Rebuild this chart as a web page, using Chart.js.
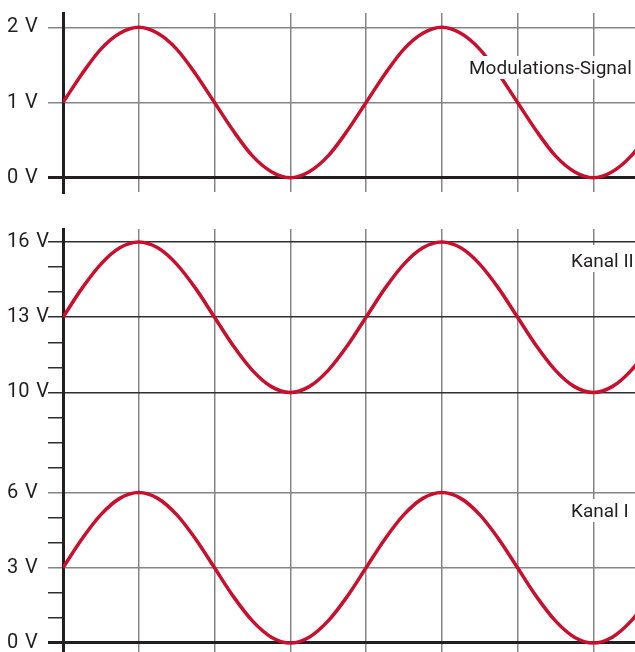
<!DOCTYPE html>
<html>
<head>
<meta charset="utf-8">
<script src="https://cdn.jsdelivr.net/npm/chart.js@4.4.1/dist/chart.umd.min.js"></script>
<style>
  html, body { margin: 0; padding: 0; background: #fff; }
  #wrap { position: relative; width: 635px; height: 652px; overflow: hidden; }
  .panel { position: absolute; left: 0; width: 635px; }
  #top { top: 0; height: 200px; }
  #bottom { top: 200px; height: 452px; }
  canvas { display: block; }
</style>
</head>
<body>
<div id="wrap">
  <div class="panel" id="top"><canvas id="modChart" width="635" height="200"></canvas></div>
  <div class="panel" id="bottom"><canvas id="kanalChart" width="635" height="452"></canvas></div>
</div>
<script>
// x is counted in grid divisions (one vertical line per unit), read every quarter division
const timeSteps = [0, 0.25, 0.5, 0.75, 1, 1.25, 1.5, 1.75, 2, 2.25, 2.5, 2.75, 3, 3.25, 3.5, 3.75,
                   4, 4.25, 4.5, 4.75, 5, 5.25, 5.5, 5.75, 6, 6.25, 6.5, 6.75, 7, 7.25, 7.5, 7.75, 8];
const modulation = [1, 1.38, 1.71, 1.92, 2, 1.92, 1.71, 1.38, 1, 0.62, 0.29, 0.08, 0, 0.08, 0.29, 0.62,
                    1, 1.38, 1.71, 1.92, 2, 1.92, 1.71, 1.38, 1, 0.62, 0.29, 0.08, 0, 0.08, 0.29, 0.62, 1];
const kanal2 = [13, 14.15, 15.12, 15.77, 16, 15.77, 15.12, 14.15, 13, 11.85, 10.88, 10.23, 10, 10.23, 10.88, 11.85,
                13, 14.15, 15.12, 15.77, 16, 15.77, 15.12, 14.15, 13, 11.85, 10.88, 10.23, 10, 10.23, 10.88, 11.85, 13];
const kanal1 = [3, 4.15, 5.12, 5.77, 6, 5.77, 5.12, 4.15, 3, 1.85, 0.88, 0.23, 0, 0.23, 0.88, 1.85,
                3, 4.15, 5.12, 5.77, 6, 5.77, 5.12, 4.15, 3, 1.85, 0.88, 0.23, 0, 0.23, 0.88, 1.85, 3];

const gridX         = [0, 1, 2, 3, 4, 5, 6, 7];
const modTicks      = [0, 1, 2];
const kanalTicks    = [0, 1, 2, 3, 4, 5, 6, 7, 8, 9, 10, 11, 12, 13, 14, 15, 16];
const kanalLabelled = [0, 3, 6, 10, 13, 16];
const darkLines     = [10, 13, 16];

const seriesNames = ['Modulations-Signal', 'Kanal II', 'Kanal I'];

const ink = '#231f20';
const red = '#c8102e';
const gray = '#858585';

// where the series names sit (canvas coords) + white knock-out box
const nameSpots = {
  modChart:   [{ x: 469, y: 74, box: [461, 56, 174, 23] }],
  kanalChart: [{ x: 571, y: 67, box: [563, 45, 72, 27] },
               { x: 571, y: 317, box: [563, 299, 72, 23] }]
};

const namePlugin = {
  id: 'seriesNames',
  afterDatasetsDraw(chart) {
    const ctx = chart.ctx;
    const spots = nameSpots[chart.canvas.id];
    ctx.save();
    chart.data.datasets.forEach((ds, i) => {
      const s = spots[i];
      ctx.fillStyle = '#fff';
      ctx.fillRect(s.box[0], s.box[1], s.box[2], s.box[3]);
      ctx.fillStyle = ink;
      ctx.font = '19px Roboto';
      ctx.textAlign = 'left';
      ctx.textBaseline = 'alphabetic';
      ctx.fillText(ds.label, s.x, s.y);
    });
    ctx.restore();
  }
};

const pts = vals => timeSteps.map((t, i) => ({ x: t, y: vals[i] }));

const lineDs = (label, vals) => ({
  label: label,
  data: pts(vals),
  borderColor: red,
  borderWidth: 3.5,
  pointRadius: 0,
  fill: false,
  cubicInterpolationMode: 'monotone'
});

const xScale = () => ({
  type: 'linear',
  min: 0,
  max: 7.55,
  afterBuildTicks: s => { s.ticks = gridX.map(v => ({ value: v })); },
  afterFit: s => { s.height = 0; },
  border: { display: false },
  grid: { color: gray, lineWidth: 1.5, drawTicks: false },
  ticks: { display: false }
});

// fixed axis width, and no extra room for the half labels at the ends
const fitY = s => { s.width = 56; s.paddingTop = 0; s.paddingBottom = 0; };

const tickFont = { family: 'Roboto', size: 20 };
const volt = v => v + '\u2004V';

new Chart(document.getElementById('modChart'), {
  type: 'line',
  data: { datasets: [lineDs(seriesNames[0], modulation)] },
  options: {
    responsive: false,
    animation: false,
    layout: { padding: { left: 7, right: 0, top: 13, bottom: 8 } },
    plugins: { legend: { display: false }, tooltip: { enabled: false } },
    scales: {
      x: xScale(),
      y: {
        min: -0.19,
        max: 2.19,
        afterBuildTicks: s => { s.ticks = modTicks.map(v => ({ value: v })); },
        afterFit: fitY,
        border: { color: ink, width: 3 },
        grid: {
          color: c => (c.tick && c.tick.value === 0) ? ink : gray,
          lineWidth: c => (c.tick && c.tick.value === 0) ? 3 : 1.5,
          tickLength: 15
        },
        ticks: { crossAlign: 'far', padding: 0, color: ink, font: tickFont, autoSkip: false,
                 callback: v => volt(v) }
      }
    }
  },
  plugins: [namePlugin]
});

new Chart(document.getElementById('kanalChart'), {
  type: 'line',
  data: { datasets: [lineDs(seriesNames[1], kanal2), lineDs(seriesNames[2], kanal1)] },
  options: {
    responsive: false,
    animation: false,
    layout: { padding: { left: 7, right: 0, top: 29, bottom: 0 } },
    plugins: { legend: { display: false }, tooltip: { enabled: false } },
    scales: {
      x: xScale(),
      y: {
        min: -0.36,
        max: 16.52,
        afterBuildTicks: s => { s.ticks = kanalTicks.map(v => ({ value: v })); },
        afterFit: fitY,
        border: { color: ink, width: 3 },
        grid: {
          color: c => {
            const v = c.tick ? c.tick.value : -1;
            if (v === 0) return ink;
            if (darkLines.includes(v)) return '#2e2e2e';
            if (kanalLabelled.includes(v)) return gray;
            return 'rgba(0,0,0,0)';
          },
          lineWidth: c => (c.tick && c.tick.value === 0) ? 3 : 1.5,
          tickColor: c => {
            const v = c.tick ? c.tick.value : -1;
            if (v === 0) return ink;
            if (kanalLabelled.includes(v) && !darkLines.includes(v)) return gray;
            return '#2e2e2e';
          },
          tickLength: 15
        },
        ticks: { crossAlign: 'far', padding: 0, color: ink, font: tickFont, autoSkip: false,
                 callback: v => kanalLabelled.includes(v) ? volt(v) : '' }
      }
    }
  },
  plugins: [namePlugin]
});
</script>
</body>
</html>
